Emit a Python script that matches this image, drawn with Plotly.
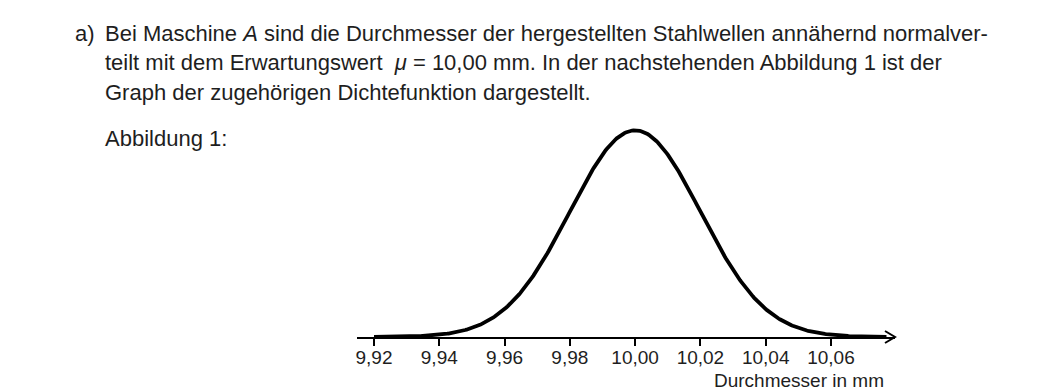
import numpy as np
import plotly.graph_objects as go

# --- data ---
mu = 10.00          # Erwartungswert (mm)
sigma = 0.02        # estimated from curve width
x_start, x_end = 9.92, 10.077
tick_vals = [9.92, 9.94, 9.96, 9.98, 10.00, 10.02, 10.04, 10.06]
tick_text = ["9,92", "9,94", "9,96", "9,98", "10,00", "10,02", "10,04", "10,06"]
axis_title = "Durchmesser in mm"
text_lines = [
    "Bei Maschine <i>A</i> sind die Durchmesser der hergestellten Stahlwellen annähernd normalver-",
    "teilt mit dem Erwartungswert  <i>μ</i> = 10,00 mm. In der nachstehenden Abbildung 1 ist der",
    "Graph der zugehörigen Dichtefunktion dargestellt.",
]
fig_label = "Abbildung 1:"

# density curve
xs = np.linspace(x_start, x_end, 400)
ys = np.exp(-0.5 * ((xs - mu) / sigma) ** 2) / (sigma * np.sqrt(2 * np.pi))
ymax = ys.max()

W, H = 1040, 391
PXU = 3264.0             # pixels per mm on x
L, R = 357, 895          # plot area pixels
B = 337
PEAK = 207
T = B - PEAK * 1.05
xr = [9.92 - (374 - L) / PXU, 9.92 + (R - 374) / PXU]

def px(x):
    return (x - L) / (R - L)

def py(y):
    return (B - y) / (B - T)

FONT = "Liberation Sans"
TXT = "#1e1e1e"

fig = go.Figure()
fig.add_trace(go.Scatter(x=xs, y=ys, mode="lines",
                         line=dict(color="black", width=3.8),
                         hoverinfo="skip", showlegend=False))

fig.update_layout(
    width=W, height=H,
    margin=dict(l=L, r=W - R, t=T, b=H - B, pad=0),
    paper_bgcolor="white", plot_bgcolor="white",
    xaxis=dict(range=xr, showgrid=False, zeroline=False,
               showline=True, linecolor="black", linewidth=1.5,
               ticks="outside", ticklen=7, tickwidth=1.5, tickcolor="black",
               tickvals=tick_vals, ticktext=tick_text, ticklabelstandoff=-5,
               tickfont=dict(family=FONT, size=19, color=TXT)),
    yaxis=dict(range=[0, ymax * 1.05], visible=False, fixedrange=True),
)

# arrow head on x axis (paper-referenced so it is not clipped)
fig.add_shape(type="path", xref="paper", yref="paper", xsizemode="pixel", ysizemode="pixel",
              xanchor=1, yanchor=0,
              path="M -10 -6 L 0 0 L -10 6",
              line=dict(color="black", width=2))

ann = []
ann.append(dict(text="a)", x=px(73), y=py(33)))
for i, t in enumerate(text_lines):
    ann.append(dict(text=t, x=px(103), y=py(33 + i * 29.5)))
ann.append(dict(text=fig_label, x=px(103), y=py(138)))
for a in ann:
    fig.add_annotation(xref="paper", yref="paper", xanchor="left", yanchor="middle",
                       showarrow=False, font=dict(family=FONT, size=22, color=TXT), **a)

fig.add_annotation(xref="paper", yref="paper", x=px(886), y=py(381),
                   xanchor="right", yanchor="middle", showarrow=False,
                   text=axis_title, font=dict(family=FONT, size=19, color=TXT))

fig.write_html("out.html", config={"displayModeBar": False},
               post_script="document.body.style.margin='0px';")
